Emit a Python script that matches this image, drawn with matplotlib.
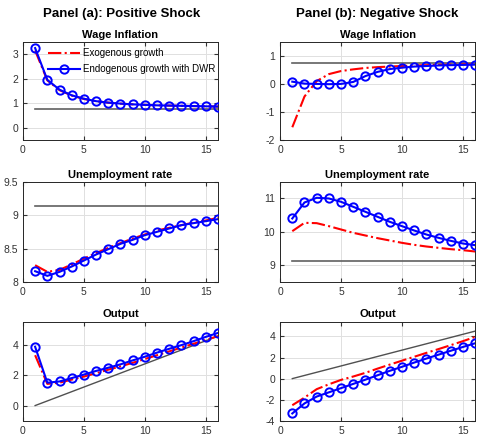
import matplotlib.pyplot as plt
import numpy as np

plt.rcParams["font.family"] = ["Liberation Sans", "DejaVu Sans"]

periods = np.arange(1, 17)

# Panel (a): positive shock
wage_a_exo = [3.15, 1.93, 1.53, 1.31, 1.17, 1.08, 1.02, 0.98, 0.95, 0.93, 0.91, 0.90, 0.89, 0.88, 0.87, 0.86]
wage_a_dwr = [3.25, 1.95, 1.55, 1.32, 1.18, 1.08, 1.02, 0.98, 0.95, 0.93, 0.91, 0.90, 0.89, 0.88, 0.87, 0.86]
wage_a_ss = 0.78

unemp_a_exo = [8.25, 8.15, 8.18, 8.26, 8.35, 8.43, 8.51, 8.58, 8.65, 8.71, 8.77, 8.81, 8.85, 8.89, 8.92, 8.96]
unemp_a_dwr = [8.16, 8.09, 8.15, 8.23, 8.32, 8.41, 8.49, 8.57, 8.63, 8.70, 8.75, 8.80, 8.85, 8.88, 8.91, 8.94]
unemp_ss = 9.14

output_a_exo = [3.3, 1.42, 1.5, 1.7, 1.9, 2.12, 2.35, 2.57, 2.8, 3.05, 3.3, 3.55, 3.8, 4.05, 4.3, 4.55]
output_a_dwr = [3.85, 1.5, 1.58, 1.8, 2.03, 2.27, 2.48, 2.7, 2.96, 3.2, 3.47, 3.72, 3.96, 4.22, 4.5, 4.76]
output_a_trend = [0.0, 4.55]

# Panel (b): negative shock
wage_b_exo = [-1.55, -0.45, 0.1, 0.35, 0.46, 0.52, 0.57, 0.6, 0.62, 0.64, 0.66, 0.67, 0.68, 0.69, 0.70, 0.70]
wage_b_dwr = [0.08, 0.01, 0.0, -0.01, 0.0, 0.07, 0.28, 0.43, 0.53, 0.58, 0.62, 0.64, 0.66, 0.67, 0.68, 0.69]
wage_b_ss = 0.75

unemp_b_exo = [10.02, 10.27, 10.26, 10.17, 10.07, 9.97, 9.89, 9.81, 9.74, 9.67, 9.61, 9.56, 9.52, 9.48, 9.45, 9.41]
unemp_b_dwr = [10.4, 10.88, 11.02, 11.0, 10.9, 10.75, 10.6, 10.45, 10.3, 10.17, 10.04, 9.92, 9.82, 9.73, 9.65, 9.6]

output_b_exo = [-2.52, -1.8, -1.0, -0.54, -0.12, 0.2, 0.55, 0.95, 1.33, 1.7, 2.07, 2.44, 2.8, 3.17, 3.55, 3.95]
output_b_dwr = [-3.3, -2.35, -1.7, -1.3, -0.9, -0.5, -0.1, 0.32, 0.74, 1.12, 1.52, 1.9, 2.27, 2.64, 3.0, 3.35]
output_b_trend = [0.0, 4.5]


def draw(ax, title, exo, dwr, ref, ylim, yticks, ref_is_line=False):
    if ref_is_line:
        ax.plot([periods[0], periods[-1]], ref, color="#505050", lw=1.0, zorder=2)
    else:
        ax.plot([periods[0], periods[-1]], [ref, ref], color="#606060", lw=1.2, zorder=2)
    ax.plot(periods, exo, color="red", ls="-.", lw=1.5, label="Exogenous growth", zorder=3)
    ax.plot(periods, dwr, color="blue", lw=1.5, marker="o", markersize=6,
            markerfacecolor="none", markeredgewidth=1.4,
            label="Endogenous growth with DWR", zorder=4)
    ax.set_xlim(0, 16)
    ax.set_xticks([0, 5, 10, 15])
    ax.set_ylim(*ylim)
    ax.set_yticks(yticks)
    ax.set_yticklabels([f"{t:g}" for t in yticks])
    ax.grid(True, color="#e0e0e0", lw=0.7)
    ax.set_axisbelow(True)
    ax.tick_params(direction="in", labelsize=7.5, colors="#333333", length=3,
                   top=True, right=True)
    for s in ax.spines.values():
        s.set_color("#262626")
        s.set_linewidth(0.7)
    ax.set_title(title, fontsize=8, fontweight="bold", pad=3)


fig = plt.figure(figsize=(4.78, 4.37), dpi=100)
lx, rx, w = 0.048, 0.586, 0.408
rows = [(0.680, 0.224), (0.355, 0.229), (0.037, 0.227)]

ax = fig.add_axes([lx, rows[0][0], w, rows[0][1]])
draw(ax, "Wage Inflation", wage_a_exo, wage_a_dwr, wage_a_ss, (-0.5, 3.5), [0, 1, 2, 3])
ax.legend(loc="upper right", bbox_to_anchor=(1.0, 0.965), fontsize=7, frameon=False,
          handlelength=3.3, handletextpad=0.3, borderaxespad=0.1, borderpad=0.2,
          labelspacing=0.6)

ax = fig.add_axes([lx, rows[1][0], w, rows[1][1]])
draw(ax, "Unemployment rate", unemp_a_exo, unemp_a_dwr, unemp_ss, (8, 9.5), [8, 8.5, 9, 9.5])

ax = fig.add_axes([lx, rows[2][0], w, rows[2][1]])
draw(ax, "Output", output_a_exo, output_a_dwr, output_a_trend, (-1, 5.5), [0, 2, 4], ref_is_line=True)

ax = fig.add_axes([rx, rows[0][0], w, rows[0][1]])
draw(ax, "Wage Inflation", wage_b_exo, wage_b_dwr, wage_b_ss, (-2, 1.5), [-2, -1, 0, 1])

ax = fig.add_axes([rx, rows[1][0], w, rows[1][1]])
draw(ax, "Unemployment rate", unemp_b_exo, unemp_b_dwr, unemp_ss, (8.5, 11.5), [9, 10, 11])

ax = fig.add_axes([rx, rows[2][0], w, rows[2][1]])
draw(ax, "Output", output_b_exo, output_b_dwr, output_b_trend, (-4, 5.4), [-4, -2, 0, 2, 4], ref_is_line=True)

fig.text(0.255, 0.968, "Panel (a): Positive Shock", ha="center", va="center",
         fontsize=9.5, fontweight="bold")
fig.text(0.79, 0.968, "Panel (b): Negative Shock", ha="center", va="center",
         fontsize=9.5, fontweight="bold")

fig.savefig("out.png", dpi=100)
